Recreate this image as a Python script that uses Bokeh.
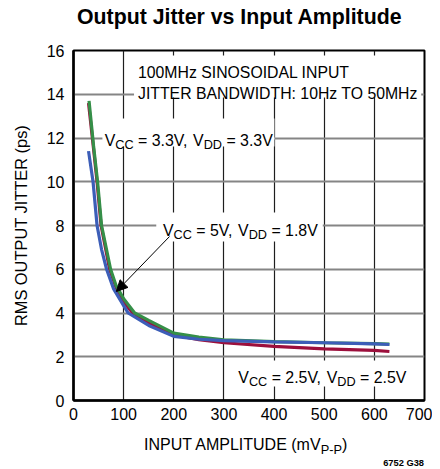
import math
from bokeh.plotting import figure
from bokeh.models import Range1d, Label, BoxAnnotation, Arrow, NormalHead, FixedTicker, Div
from bokeh.layouts import column
from bokeh.embed import file_html
from bokeh.resources import INLINE

# ---------------- data ----------------
amp_red = [30, 40, 47, 55, 72, 85, 100, 118, 150, 200, 250, 300, 400, 500, 600, 630]
jit_red = [13.6, 11.5, 10.0, 8.0, 6.0, 5.15, 4.5, 4.0, 3.55, 3.0, 2.78, 2.64, 2.47, 2.36, 2.29, 2.24]

amp_green = [31, 40, 48, 56, 74, 85, 100, 122, 150, 200, 250, 300, 400, 500, 600, 630]
jit_green = [13.7, 11.65, 10.0, 8.0, 6.0, 5.25, 4.65, 4.0, 3.66, 3.08, 2.9, 2.77, 2.69, 2.64, 2.6, 2.58]

amp_blue = [30, 39, 47, 56, 66, 80, 100, 109, 150, 200, 250, 300, 400, 500, 600, 630]
jit_blue = [11.4, 10.0, 8.0, 6.9, 6.0, 5.1, 4.34, 4.0, 3.43, 2.93, 2.8, 2.74, 2.68, 2.64, 2.59, 2.56]

x_ticks = [0, 100, 200, 300, 400, 500, 600, 700]
y_ticks = [0, 2, 4, 6, 8, 10, 12, 14, 16]

title_text = "Output Jitter vs Input Amplitude"
note_line1 = "100MHz SINOSOIDAL INPUT"
note_line2 = "JITTER BANDWIDTH: 10Hz TO 50MHz"
label_33 = [("V", 0), ("CC", 1), (" = 3.3V, ", 0), ("V", 0), ("DD", 1), (" = 3.3V", 0)]
label_5 = [("V", 0), ("CC", 1), (" = 5V, ", 0), ("V", 0), ("DD", 1), (" = 1.8V", 0)]
label_25 = [("V", 0), ("CC", 1), (" = 2.5V, ", 0), ("V", 0), ("DD", 1), (" = 2.5V", 0)]
xlabel_main = "INPUT AMPLITUDE (mV"
xlabel_sub = "P-P"
xlabel_end = ")"
ylabel = "RMS OUTPUT JITTER (ps)"
footnote = "6752 G38"

# ---------------- layout ----------------
FONT = "Liberation Sans"
PAGE_W, PAGE_H, MARGIN = 440, 469, 8
W = PAGE_W - 2 * MARGIN          # 424
TITLE_H = 30
H = 390
XDIV_H = PAGE_H - MARGIN - TITLE_H - H
BL, BR, BT, BB = 64, 8, 12, 28
XMIN, XMAX, YMIN, YMAX = 0, 700, 0, 16
CANVAS_TOP = MARGIN + TITLE_H
FX0 = MARGIN + BL
FX1 = MARGIN + W - BR
FY0 = CANVAS_TOP + BT
FY1 = CANVAS_TOP + H - BB


def dx(px):
    return (px - FX0) / (FX1 - FX0) * (XMAX - XMIN) + XMIN


def dy(py):
    return (FY1 - py) / (FY1 - FY0) * (YMAX - YMIN) + YMIN


p = figure(width=W, height=H, x_range=Range1d(XMIN, XMAX), y_range=Range1d(YMIN, YMAX),
           output_backend="svg", toolbar_location=None,
           min_border_left=BL, min_border_right=BR, min_border_top=BT, min_border_bottom=BB)
p.title.text = ""
p.title.visible = False

p.outline_line_color = "black"
p.outline_line_width = 2
p.background_fill_color = "white"
p.border_fill_color = "white"

p.xaxis.ticker = FixedTicker(ticks=x_ticks)
p.yaxis.ticker = FixedTicker(ticks=y_ticks)
for ax in (p.xaxis[0], p.yaxis[0]):
    ax.major_tick_out = 0
    ax.major_tick_in = 0
    ax.minor_tick_out = 0
    ax.minor_tick_in = 0
    ax.axis_line_color = "black"
    ax.axis_line_width = 2.5
    ax.major_label_text_font = FONT
    ax.major_label_text_font_size = "16px"
    ax.major_label_text_color = "black"
p.xaxis.major_label_standoff = 7
p.yaxis.major_label_standoff = 9
p.yaxis.axis_label = ylabel
p.yaxis.axis_label_text_font = FONT
p.yaxis.axis_label_text_font_size = "16.4px"
p.yaxis.axis_label_text_font_style = "normal"
p.yaxis.axis_label_text_color = "black"
p.yaxis.axis_label_standoff = 14

p.xgrid.ticker = FixedTicker(ticks=x_ticks)
p.ygrid.ticker = FixedTicker(ticks=y_ticks)
p.xgrid.grid_line_color = "#1e1e1e"
p.xgrid.grid_line_width = 1.2
p.ygrid.grid_line_color = "#858585"
p.ygrid.grid_line_width = 2


def white_box(l, r, t, b):
    box = BoxAnnotation(left=dx(l), right=dx(r), top=dy(t), bottom=dy(b),
                        fill_color="white", fill_alpha=1.0, line_color=None, level="underlay")
    p.add_layout(box)


white_box(132.7, 420.7, 55, 97)
white_box(101, 273.5, 118, 146)
white_box(155, 322, 212, 241)
white_box(232, 411, 360, 386)

p.line(amp_red, jit_red, line_color="#9c0f3c", line_width=3.2)
p.line(amp_green, jit_green, line_color="#358f48", line_width=3.2)
p.line(amp_blue, jit_blue, line_color="#3c5eb8", line_width=3.2)


def lab(text, px, py, size, bold=False, align="left", baseline="alphabetic"):
    p.add_layout(Label(x=dx(px), y=dy(py), text=text, text_font=FONT,
                       text_font_size="%.1fpx" % size,
                       text_font_style="bold" if bold else "normal",
                       text_color="black", text_align=align, text_baseline=baseline))


CW = {' ': 278, '=': 584, '.': 278, ',': 278, '-': 333, '(': 333, ')': 333,
      'V': 667, 'C': 722, 'D': 722, 'P': 667, 'm': 833}
for d in "0123456789":
    CW[d] = 556


def tw(text):
    return sum(CW.get(c, 600) for c in text) / 1000.0


def rich(pieces, px0, pybase, F, sub_scale=0.8, sub_drop=4):
    x = px0
    for text, sub in pieces:
        sc = sub_scale if sub else 1.0
        lead = len(text) - len(text.lstrip(" "))
        xs = x + tw(" " * lead) * F * sc
        lab(text.strip(" "), xs, pybase + (sub_drop if sub else 0), F * sc)
        x += tw(text) * F * sc


# note
lab(note_line1, 136.7, 71.7, 15.8)
lab(note_line2, 136.7, 93.3, 15.8)
# curve labels
rich(label_33, 103.3, 140, 15.9)
rich(label_5, 161.7, 230, 15.9)
rich(label_25, 237.3, 377.3, 15.9)

# arrow
p.add_layout(Arrow(end=NormalHead(size=11, fill_color="black", line_color="black", line_width=1),
                   x_start=dx(168.3), y_start=dy(236), x_end=dx(115), y_end=dy(291),
                   line_color="black", line_width=1))

# title as real HTML text above the plot
title_html = (
    '<div style="position:relative;width:%dpx;height:%dpx;font-family:\'%s\';color:black;">'
    '<span style="position:absolute;left:%dpx;top:%.1fpx;font-size:21.3px;font-weight:bold;'
    'line-height:1;white-space:nowrap;">%s</span></div>'
) % (W, TITLE_H, FONT, 77 - MARGIN, 25 - MARGIN - 18.0, title_text)
tdiv = Div(text=title_html, width=W, height=TITLE_H, margin=(0, 0, 0, 0))

# x-axis label (with subscript) and figure number, as real HTML text below the plot
xdiv_top = CANVAS_TOP + H
xlab_html = (
    '<div style="position:relative;width:%dpx;height:%dpx;font-family:\'%s\';color:black;">'
    '<span style="position:absolute;left:%dpx;top:%.1fpx;font-size:16px;line-height:1;white-space:nowrap;">'
    '%s<span style="font-size:12.8px;position:relative;top:4px;">%s</span>%s</span>'
    '<span style="position:absolute;right:%dpx;top:%.1fpx;font-size:9.3px;font-weight:bold;line-height:1;white-space:nowrap;">%s</span>'
    '</div>'
) % (W, XDIV_H, FONT, 144 - MARGIN, 450 - xdiv_top - 13.5, xlabel_main, xlabel_sub, xlabel_end,
     (MARGIN + W) - 424, 467 - xdiv_top - 7.9, footnote)
xdiv = Div(text=xlab_html, width=W, height=XDIV_H, margin=(0, 0, 0, 0))

layout = column(tdiv, p, xdiv, spacing=0)

html = file_html(layout, INLINE)
html = html.replace("</head>", "<style>body{margin:8px 8px 0 8px;overflow:hidden}</style></head>", 1)
open("out.html", "w").write(html)
